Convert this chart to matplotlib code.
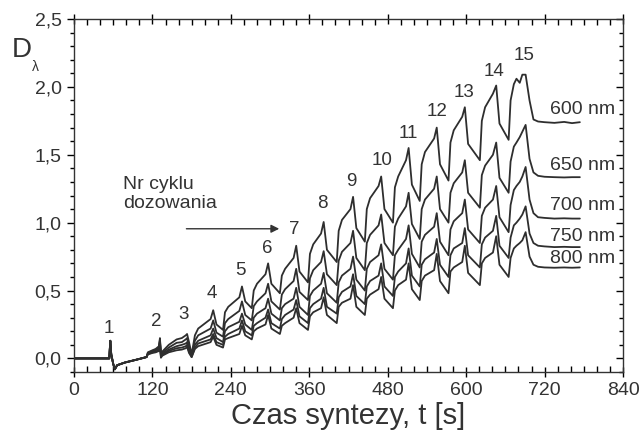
import matplotlib
matplotlib.use("Agg")
import matplotlib.pyplot as plt
from matplotlib.ticker import MultipleLocator, FuncFormatter

plt.rcParams['font.family'] = ['Liberation Sans', 'DejaVu Sans']

# Synthesis time [s] shared by all wavelength traces
time_s = [
    0, 54, 55.5, 57, 60, 62.5, 66, 78, 95, 111, 113, 120, 125, 130, 131.5, 133, 135, 145, 157, 165, 171, 173, 176,
    180, 185, 190, 209, 213, 218,
    228, 231, 236, 253, 257, 262,
    272, 275, 280, 293, 297, 302,
    315, 318, 323, 336, 340, 345,
    358, 361, 366, 378, 382, 387,
    402, 405, 410, 423, 427, 432,
    445, 448, 453, 466, 470, 475,
    488, 491, 496, 508, 512, 517,
    529, 532, 537, 551, 555, 560,
    573, 576, 581, 594, 598, 603,
    621, 624, 629, 641, 646, 651,
    665, 668, 673, 677, 682, 686, 691, 697, 703, 710, 720, 735, 750, 762, 774,
]

early_common = [0, 0, 0.13, 0.03, -0.04, -0.08, -0.05, -0.03, -0.01, 0.01]

d_600 = early_common + [
    0.045, 0.06, 0.07, 0.09, 0.15, 0.03, 0.05, 0.10, 0.14, 0.15, 0.17, 0.18, 0.12,
    0.03, 0.17, 0.22, 0.29, 0.355, 0.25,
    0.21, 0.34, 0.38, 0.45, 0.53, 0.42,
    0.37, 0.50, 0.55, 0.62, 0.70, 0.55,
    0.48, 0.61, 0.66, 0.74, 0.83, 0.64,
    0.56, 0.77, 0.84, 0.92, 1.005, 0.80,
    0.71, 0.94, 1.02, 1.10, 1.19, 0.96,
    0.86, 1.10, 1.18, 1.27, 1.34, 1.10,
    1.00, 1.26, 1.34, 1.46, 1.55, 1.28,
    1.16, 1.43, 1.52, 1.62, 1.70, 1.43,
    1.31, 1.59, 1.68, 1.78, 1.85, 1.58,
    1.46, 1.75, 1.85, 1.95, 2.01, 1.73,
    1.61, 1.90, 2.02, 2.06, 2.03, 2.09, 2.09, 1.90, 1.76, 1.745, 1.74, 1.735, 1.742, 1.733, 1.74,
]

d_650 = early_common + [
    0.04, 0.055, 0.065, 0.08, 0.14, 0.02, 0.04, 0.08, 0.115, 0.12, 0.14, 0.15, 0.09,
    0.02, 0.13, 0.17, 0.22, 0.28, 0.19,
    0.16, 0.26, 0.29, 0.35, 0.42, 0.32,
    0.28, 0.385, 0.42, 0.48, 0.55, 0.42,
    0.36, 0.47, 0.51, 0.57, 0.66, 0.49,
    0.43, 0.59, 0.65, 0.71, 0.79, 0.62,
    0.54, 0.72, 0.785, 0.85, 0.94, 0.74,
    0.65, 0.85, 0.91, 0.98, 1.06, 0.85,
    0.76, 0.97, 1.03, 1.12, 1.22, 0.99,
    0.88, 1.10, 1.17, 1.25, 1.34, 1.10,
    1.00, 1.22, 1.29, 1.37, 1.46, 1.22,
    1.11, 1.35, 1.42, 1.50, 1.59, 1.33,
    1.22, 1.45, 1.56, 1.59, 1.63, 1.67, 1.72, 1.47, 1.37, 1.345, 1.338, 1.335, 1.333, 1.335, 1.335,
]

d_700 = early_common + [
    0.035, 0.05, 0.06, 0.07, 0.13, 0.015, 0.03, 0.065, 0.09, 0.10, 0.11, 0.12, 0.07,
    0.02, 0.10, 0.13, 0.17, 0.22, 0.15,
    0.12, 0.20, 0.23, 0.27, 0.33, 0.25,
    0.21, 0.30, 0.33, 0.37, 0.44, 0.33,
    0.28, 0.37, 0.40, 0.44, 0.52, 0.38,
    0.32, 0.46, 0.50, 0.55, 0.63, 0.48,
    0.41, 0.56, 0.61, 0.66, 0.75, 0.58,
    0.50, 0.66, 0.71, 0.76, 0.84, 0.66,
    0.58, 0.76, 0.80, 0.88, 0.98, 0.77,
    0.67, 0.86, 0.91, 0.97, 1.07, 0.86,
    0.76, 0.95, 1.01, 1.07, 1.17, 0.95,
    0.85, 1.05, 1.11, 1.17, 1.27, 1.04,
    0.93, 1.13, 1.24, 1.27, 1.30, 1.34, 1.41, 1.17, 1.07, 1.04, 1.035, 1.03, 1.032, 1.03, 1.03,
]

d_750 = early_common + [
    0.03, 0.045, 0.05, 0.06, 0.12, 0.01, 0.025, 0.055, 0.075, 0.08, 0.09, 0.10, 0.05,
    0.01, 0.08, 0.11, 0.14, 0.18, 0.12,
    0.10, 0.16, 0.18, 0.22, 0.28, 0.20,
    0.17, 0.24, 0.26, 0.30, 0.36, 0.26,
    0.22, 0.29, 0.32, 0.36, 0.43, 0.31,
    0.26, 0.37, 0.40, 0.44, 0.52, 0.38,
    0.33, 0.45, 0.49, 0.53, 0.62, 0.46,
    0.40, 0.53, 0.57, 0.61, 0.70, 0.53,
    0.46, 0.60, 0.64, 0.70, 0.81, 0.61,
    0.53, 0.69, 0.73, 0.78, 0.88, 0.69,
    0.60, 0.76, 0.81, 0.85, 0.96, 0.76,
    0.67, 0.84, 0.89, 0.94, 1.05, 0.83,
    0.74, 0.89, 0.98, 1.00, 1.03, 1.06, 1.12, 0.92, 0.85, 0.83, 0.825, 0.82, 0.822, 0.82, 0.82,
]

d_800 = early_common + [
    0.03, 0.04, 0.045, 0.055, 0.11, 0.005, 0.02, 0.045, 0.06, 0.065, 0.075, 0.085, 0.04,
    0.01, 0.07, 0.09, 0.12, 0.16, 0.10,
    0.08, 0.14, 0.15, 0.18, 0.24, 0.17,
    0.14, 0.20, 0.22, 0.25, 0.32, 0.22,
    0.18, 0.24, 0.26, 0.30, 0.37, 0.26,
    0.21, 0.31, 0.34, 0.37, 0.45, 0.32,
    0.26, 0.38, 0.41, 0.44, 0.54, 0.38,
    0.32, 0.44, 0.47, 0.51, 0.60, 0.44,
    0.37, 0.50, 0.54, 0.58, 0.70, 0.51,
    0.43, 0.57, 0.61, 0.65, 0.77, 0.57,
    0.48, 0.64, 0.67, 0.71, 0.83, 0.63,
    0.54, 0.70, 0.74, 0.78, 0.90, 0.69,
    0.60, 0.74, 0.81, 0.83, 0.85, 0.87, 0.93, 0.75, 0.69, 0.675, 0.67, 0.668, 0.67, 0.668, 0.67,
]

wavelength_labels = ["600 nm", "650 nm", "700 nm", "750 nm", "800 nm"]
wavelength_label_y = [1.83, 1.42, 1.13, 0.895, 0.735]

# Dosing-cycle numbers and their label positions (t, D)
cycle_numbers = [str(i) for i in range(1, 16)]
cycle_label_t = [53, 126, 168, 211, 254, 295, 337, 380, 425, 471, 512, 555, 597, 642, 688]
cycle_label_d = [0.22, 0.27, 0.325, 0.48, 0.645, 0.81, 0.95, 1.14, 1.30, 1.46, 1.66, 1.82, 1.96, 2.11, 2.23]

fig = plt.figure(figsize=(6.41, 4.32), dpi=100)
ax = fig.add_axes([74 / 641, 1 - 372 / 432, (623 - 74) / 641, (372 - 19) / 432])

line_color = "#2e2e2e"
for series in (d_600, d_650, d_700, d_750, d_800):
    ax.plot(time_s, series, color=line_color, lw=1.3,
            solid_joinstyle="round", solid_capstyle="round")

ax.set_xlim(0, 840)
ax.set_ylim(-0.1, 2.5)

ax.xaxis.set_major_locator(MultipleLocator(120))
ax.xaxis.set_minor_locator(MultipleLocator(20))
ax.yaxis.set_major_locator(MultipleLocator(0.5))
ax.yaxis.set_minor_locator(MultipleLocator(0.1))
ax.yaxis.set_major_formatter(FuncFormatter(lambda v, p: f"{v:.1f}".replace(".", ",")))
ax.xaxis.set_major_formatter(FuncFormatter(lambda v, p: f"{int(round(v))}"))

ax.tick_params(axis="x", which="major", direction="inout", length=7, width=1,
               labelsize=14, labelcolor="#333333", pad=4, top=True)
ax.tick_params(axis="x", which="minor", direction="in", length=4, width=1, top=True)
ax.tick_params(axis="y", which="major", direction="out", length=5, width=1,
               labelsize=14, labelcolor="#333333", pad=4, right=True)
ax.tick_params(axis="y", which="minor", direction="out", length=3, width=1, right=True)
for t in ax.yaxis.get_major_ticks() + ax.yaxis.get_minor_ticks():
    t.tick2line.set_marker(0)
for spine in ax.spines.values():
    spine.set_linewidth(1.0)
    spine.set_color("#333333")

ax.set_xlabel("Czas syntezy, t [s]", fontsize=21, color="#333333", labelpad=2)

fig.text(12 / 641, 1 - 50 / 432, "D", fontsize=20, color="#333333", ha="left", va="center")
fig.text(32 / 641, 1 - 67 / 432, "λ", fontsize=10, color="#333333", ha="left", va="center")

for lbl, yv in zip(wavelength_labels, wavelength_label_y):
    ax.text(828, yv, lbl, fontsize=14, color="#333333", ha="right", va="center")

for num, tx, dy in zip(cycle_numbers, cycle_label_t, cycle_label_d):
    ax.text(tx, dy, num, fontsize=13.5, color="#333333", ha="center", va="center")

ax.text(75, 1.21, "Nr cyklu\ndozowania", fontsize=14, color="#333333",
        ha="left", va="center", linespacing=1.15)
ax.annotate("", xy=(314, 0.955), xytext=(172, 0.955),
            arrowprops=dict(arrowstyle="-|>", color="#333333", lw=1.0,
                            mutation_scale=12, shrinkA=0, shrinkB=0))

fig.savefig("out.png", dpi=100, facecolor="white")
